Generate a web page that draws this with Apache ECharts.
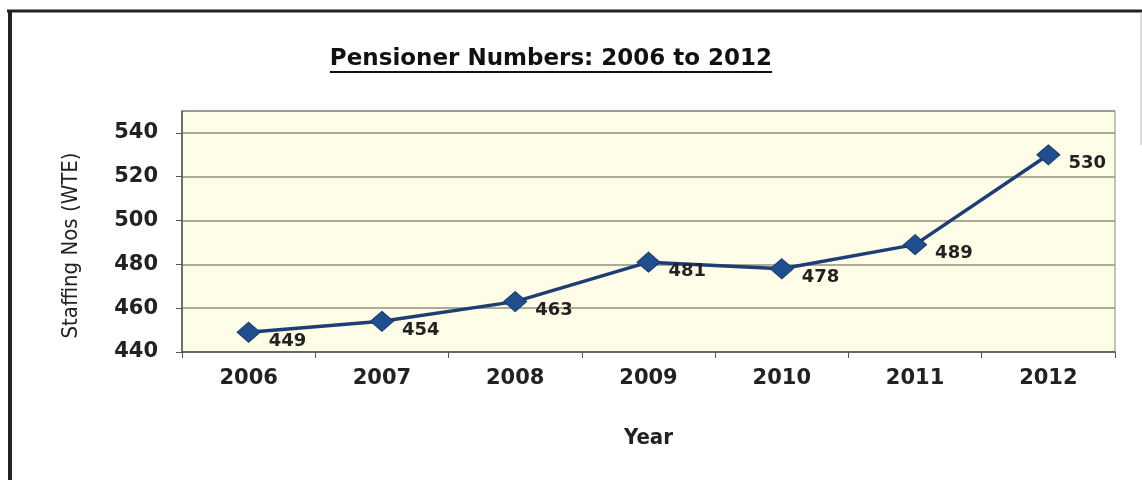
<!DOCTYPE html>
<html>
<head>
<meta charset="utf-8">
<script src="https://cdn.jsdelivr.net/npm/echarts@6/dist/echarts.min.js"></script>
<style>
  html, body { margin: 0; padding: 0; background: #fff; }
  #chart { width: 1142px; height: 480px; }
</style>
</head>
<body>
<div id="chart"></div>
<script>
// data
const years = ['2006', '2007', '2008', '2009', '2010', '2011', '2012']
const pensioners = [449, 454, 463, 481, 478, 489, 530]
const yMin = 440
const yMax = 550
const yStep = 20

const titleText = 'Pensioner Numbers: 2006 to 2012'
const titleFont = 'bold 23px "DejaVu Sans"'

// measure the title so the underline fits it
const cv = document.createElement('canvas').getContext('2d')
cv.font = titleFont
const titleW = cv.measureText(titleText).width
const titleCx = 551

const chart = echarts.init(document.getElementById('chart'), null, { renderer: 'canvas' })

chart.setOption({
  animation: false,
  backgroundColor: '#ffffff',
  title: {
    text: titleText,
    left: titleCx - titleW / 2,
    top: 48,
    padding: 0,
    textStyle: {
      fontFamily: 'DejaVu Sans',
      fontWeight: 'bold',
      fontSize: 23,
      color: '#111'
    }
  },
  graphic: [
    // title underline
    {
      type: 'line',
      shape: { x1: titleCx - titleW / 2, y1: 72, x2: titleCx + titleW / 2, y2: 72 },
      style: { stroke: '#111', lineWidth: 2 }
    },
    // outer frame
    {
      type: 'line',
      shape: { x1: 7, y1: 11, x2: 1142, y2: 11 },
      style: { stroke: '#222', lineWidth: 3 }
    },
    {
      type: 'line',
      shape: { x1: 10, y1: 10, x2: 10, y2: 480 },
      style: { stroke: '#222', lineWidth: 4 }
    },
    {
      type: 'line',
      shape: { x1: 1141, y1: 12, x2: 1141, y2: 145 },
      style: { stroke: '#bbb', lineWidth: 1 }
    }
  ],
  grid: {
    left: 182,
    right: 27,
    top: 111,
    bottom: 128,
    show: true,
    backgroundColor: '#fefde7',
    borderColor: '#8a8a80',
    borderWidth: 1
  },
  xAxis: {
    type: 'category',
    data: years,
    boundaryGap: true,
    name: 'Year',
    nameLocation: 'middle',
    nameGap: 75,
    nameTextStyle: {
      fontFamily: "'Liberation Sans Narrow', 'DejaVu Sans Condensed', sans-serif",
      fontWeight: 'bold',
      fontSize: 22,
      color: '#222'
    },
    axisLine: { show: true, lineStyle: { color: '#555', width: 1.5 } },
    axisTick: { show: true, inside: false, length: 6, alignWithLabel: false, lineStyle: { color: '#555' } },
    axisLabel: {
      margin: 16,
      fontFamily: 'DejaVu Sans',
      fontWeight: 'bold',
      fontSize: 21,
      color: '#222'
    },
    splitLine: { show: false }
  },
  yAxis: {
    type: 'value',
    min: yMin,
    max: yMax,
    interval: yStep,
    name: 'Staffing Nos (WTE)',
    nameLocation: 'middle',
    nameGap: 100,
    nameRotate: 90,
    nameTextStyle: {
      fontFamily: "'Liberation Sans Narrow', 'DejaVu Sans Condensed', sans-serif",
      fontSize: 22,
      color: '#222',
      padding: [0, 28, 0, 0]
    },
    axisLine: { show: true, lineStyle: { color: '#555', width: 1.5 } },
    axisTick: { show: true, inside: false, length: 6, lineStyle: { color: '#555' } },
    axisLabel: {
      margin: 24,
      showMaxLabel: false,
      fontFamily: 'DejaVu Sans',
      fontWeight: 'bold',
      fontSize: 21,
      color: '#222'
    },
    splitLine: { show: true, lineStyle: { color: '#8f8f7c', width: 1.5 } }
  },
  series: [
    {
      name: 'Pensioners',
      type: 'line',
      data: pensioners,
      symbol: 'diamond',
      symbolSize: [23, 20],
      itemStyle: { color: '#1f4f8f', borderColor: '#183a6a', borderWidth: 1 },
      lineStyle: { color: '#1d3d74', width: 3.5 },
      label: {
        show: true,
        position: 'right',
        distance: 8,
        offset: [0, 9],
        fontFamily: 'DejaVu Sans',
        fontWeight: 'bold',
        fontSize: 18,
        color: '#222'
      }
    }
  ]
})
</script>
</body>
</html>
